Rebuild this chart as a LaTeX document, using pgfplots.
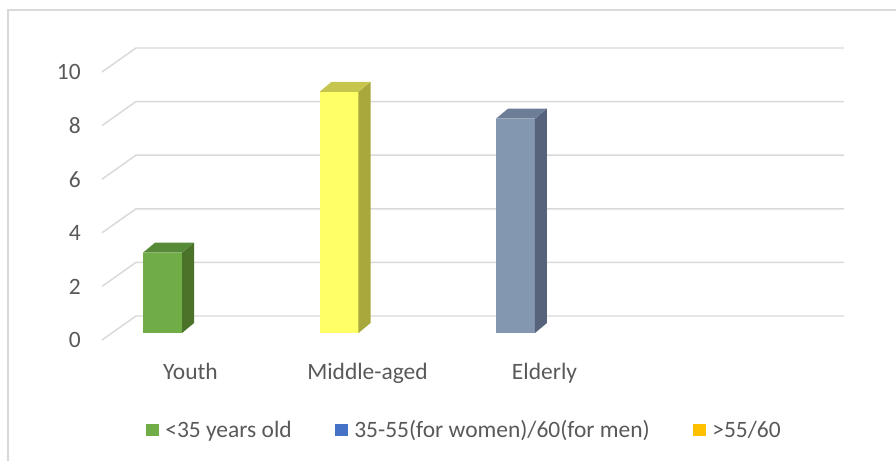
\documentclass[border=0pt]{standalone}
\usepackage{fontspec}
\setmainfont{Carlito}
\usepackage{pgfplots}
\pgfplotsset{compat=1.18}
\definecolor{gridc}{HTML}{D9D9D9}
\definecolor{txt}{HTML}{595959}
\definecolor{gF}{HTML}{70AD47}\definecolor{gS}{HTML}{4A7229}\definecolor{gT}{HTML}{568A36}
\definecolor{yF}{HTML}{FFFF66}\definecolor{yS}{HTML}{A8A83C}\definecolor{yT}{HTML}{C6C64E}
\definecolor{bF}{HTML}{8497B0}\definecolor{bS}{HTML}{56637A}\definecolor{bT}{HTML}{6C7D95}
\definecolor{lgreen}{HTML}{70AD47}\definecolor{lblue}{HTML}{4472C4}\definecolor{lyellow}{HTML}{FFC000}
\newcommand{\cfont}{\fontsize{17.6}{20}\selectfont}
\begin{document}
\begin{tikzpicture}
\useasboundingbox (0pt,0pt) rectangle (672pt,-345.75pt);
\draw[gridc, line width=1pt] (6pt,-345.75pt) -- (6pt,-7.5pt) -- (672pt,-7.5pt);
\begin{axis}[
  at={(76.5pt,-255pt)}, anchor=south west,
  x=132.75pt, y=20.1pt,
  xmin=0, xmax=4.2, ymin=0, ymax=11,
  enlargelimits=false,
  clip=false,
  axis line style={draw=none},
  major tick style={draw=none},
  major tick length=0pt,
  ytick={0,2,4,6,8,10},
  xtick={0.5,1.5,2.5},
  xticklabels={Youth,Middle-aged,Elderly},
  tick label style={font=\cfont, text=txt},
  /pgf/number format/assume math mode=true,
  yticklabel style={anchor=east, inner sep=0pt, xshift=-15.75pt},
  xticklabel style={anchor=base, inner sep=0pt, yshift=-29.25pt},
  legend columns=3,
  legend style={at={(axis cs:2.042,-3.358)}, anchor=center, draw=none, fill=none,
    font=\cfont, text=txt,
    nodes={inner sep=0pt},
    /tikz/every odd column/.append style={column sep=5pt},
    /tikz/every even column/.append style={column sep=32.5pt}},
  legend image code/.code={\draw[#1,draw=none] (0pt,-4.7pt) rectangle (9.4pt,4.7pt);},
]
\addlegendimage{fill=lgreen}\addlegendentry{<35 years old}
\addlegendimage{fill=lblue}\addlegendentry{35-55(for women)/60(for men)}
\addlegendimage{fill=lyellow}\addlegendentry{>55/60}
% gridlines (front slant + back wall)
\addplot[gridc, line width=1.1pt, forget plot] coordinates {(0,0) (0.192,0.896) (4.192,0.896)};
\addplot[gridc, line width=1.1pt, forget plot] coordinates {(0,2) (0.192,2.896) (4.192,2.896)};
\addplot[gridc, line width=1.1pt, forget plot] coordinates {(0,4) (0.192,4.896) (4.192,4.896)};
\addplot[gridc, line width=1.1pt, forget plot] coordinates {(0,6) (0.192,6.896) (4.192,6.896)};
\addplot[gridc, line width=1.1pt, forget plot] coordinates {(0,8) (0.192,8.896) (4.192,8.896)};
\addplot[gridc, line width=1.1pt, forget plot] coordinates {(0,10) (0.192,10.896) (4.192,10.896)};
% Youth = 3
\addplot[ybar, bar shift=0pt, bar width=29.25pt, fill=gF, draw=none, xshift=7.5pt, yshift=5.25pt, forget plot] coordinates {(0.2853,3)};
\addplot[fill=gS, draw=none, forget plot] coordinates {(0.452,0.261) (0.520,0.634) (0.520,3.634) (0.452,3.261)} -- cycle;
\addplot[fill=gT, draw=none, forget plot] coordinates {(0.232,3.261) (0.452,3.261) (0.520,3.634) (0.300,3.634)} -- cycle;
% Middle-aged = 9
\addplot[ybar, bar shift=0pt, bar width=29.25pt, fill=yF, draw=none, xshift=7.5pt, yshift=5.25pt, forget plot] coordinates {(1.2825,9)};
\addplot[fill=yS, draw=none, forget plot] coordinates {(1.449,0.261) (1.517,0.634) (1.517,9.634) (1.449,9.261)} -- cycle;
\addplot[fill=yT, draw=none, forget plot] coordinates {(1.229,9.261) (1.449,9.261) (1.517,9.634) (1.297,9.634)} -- cycle;
% Elderly = 8
\addplot[ybar, bar shift=0pt, bar width=29.25pt, fill=bF, draw=none, xshift=7.5pt, yshift=5.25pt, forget plot] coordinates {(2.2797,8)};
\addplot[fill=bS, draw=none, forget plot] coordinates {(2.446,0.261) (2.514,0.634) (2.514,8.634) (2.446,8.261)} -- cycle;
\addplot[fill=bT, draw=none, forget plot] coordinates {(2.226,8.261) (2.446,8.261) (2.514,8.634) (2.294,8.634)} -- cycle;
\end{axis}
\end{tikzpicture}
\end{document}
